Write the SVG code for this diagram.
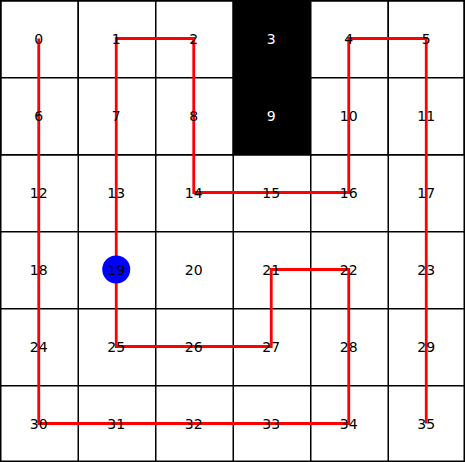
<svg xmlns="http://www.w3.org/2000/svg" width="465" height="462" viewBox="0 0 465 462">
<style>
.cell{fill:#fff;stroke:#000;stroke-width:1.5}
.blk{fill:#000;stroke:#000;stroke-width:1.5}
text{font-family:"DejaVu Sans",sans-serif;font-size:14px;text-anchor:middle;dominant-baseline:central;fill:#000}
text.w{fill:#fff}
</style>
<rect width="465" height="462" fill="#fff"/>
<g id="grid">
<rect class="cell" x="0.75" y="0.75" width="77.5" height="77"/>
<rect class="cell" x="78.25" y="0.75" width="77.5" height="77"/>
<rect class="cell" x="155.75" y="0.75" width="77.5" height="77"/>
<rect class="blk" x="233.25" y="0.75" width="77.5" height="77"/>
<rect class="cell" x="310.75" y="0.75" width="77.5" height="77"/>
<rect class="cell" x="388.25" y="0.75" width="76" height="77"/>
<rect class="cell" x="0.75" y="77.75" width="77.5" height="77"/>
<rect class="cell" x="78.25" y="77.75" width="77.5" height="77"/>
<rect class="cell" x="155.75" y="77.75" width="77.5" height="77"/>
<rect class="blk" x="233.25" y="77.75" width="77.5" height="77"/>
<rect class="cell" x="310.75" y="77.75" width="77.5" height="77"/>
<rect class="cell" x="388.25" y="77.75" width="76" height="77"/>
<path d="M0.75 154.75H464.25M0.75 231.75H464.25M0.75 308.75H464.25M0.75 385.75H464.25M78.25 154.75V461.25M155.75 154.75V461.25M233.25 154.75V461.25M310.75 154.75V461.25M388.25 154.75V461.25" stroke="#000" stroke-width="1.5" fill="none"/>
<rect x="0.75" y="0.75" width="463.5" height="460.5" fill="none" stroke="#000" stroke-width="1.5"/>
</g>
<g id="connectors">
<polyline fill="none" stroke="#f00" stroke-width="2.8" points="38.75,38.5 38.75,423.5 348.75,423.5 348.75,269.5 271.25,269.5 271.25,346.5 116.25,346.5 116.25,269.5 116.25,38.5 193.75,38.5 193.75,192.5 348.75,192.5 348.75,38.5 426.25,38.5 426.25,423.5"/>
</g>
<g id="agent"><circle cx="116.25" cy="269.5" r="14" fill="#00f"/></g>
<g id="labels">
<text x="38.75" y="38.5">0</text><text x="116.25" y="38.5">1</text><text x="193.75" y="38.5">2</text><text class="w" x="271.25" y="38.5">3</text><text x="348.75" y="38.5">4</text><text x="426.25" y="38.5">5</text>
<text x="38.75" y="115.5">6</text><text x="116.25" y="115.5">7</text><text x="193.75" y="115.5">8</text><text class="w" x="271.25" y="115.5">9</text><text x="348.75" y="115.5">10</text><text x="426.25" y="115.5">11</text>
<text x="38.75" y="192.5">12</text><text x="116.25" y="192.5">13</text><text x="193.75" y="192.5">14</text><text x="271.25" y="192.5">15</text><text x="348.75" y="192.5">16</text><text x="426.25" y="192.5">17</text>
<text x="38.75" y="269.5">18</text><text x="116.25" y="269.5">19</text><text x="193.75" y="269.5">20</text><text x="271.25" y="269.5">21</text><text x="348.75" y="269.5">22</text><text x="426.25" y="269.5">23</text>
<text x="38.75" y="346.5">24</text><text x="116.25" y="346.5">25</text><text x="193.75" y="346.5">26</text><text x="271.25" y="346.5">27</text><text x="348.75" y="346.5">28</text><text x="426.25" y="346.5">29</text>
<text x="38.75" y="423.5">30</text><text x="116.25" y="423.5">31</text><text x="193.75" y="423.5">32</text><text x="271.25" y="423.5">33</text><text x="348.75" y="423.5">34</text><text x="426.25" y="423.5">35</text>
</g>
</svg>
